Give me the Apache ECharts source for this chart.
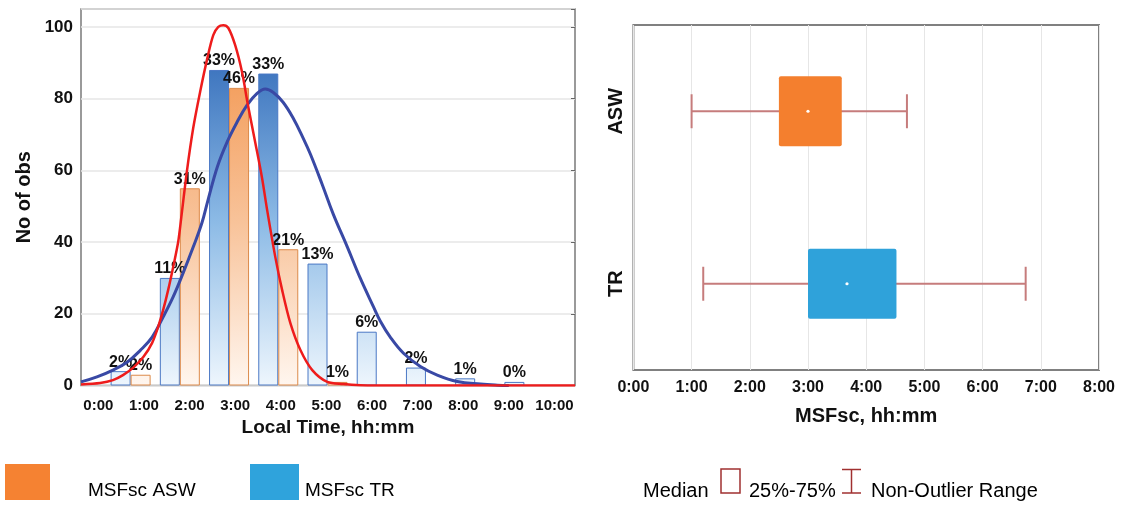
<!DOCTYPE html>
<html><head><meta charset="utf-8">
<script src="https://cdn.jsdelivr.net/npm/echarts@6/dist/echarts.min.js"></script>
<style>html,body{margin:0;padding:0;background:#fff}#c{width:1121px;height:507px}</style>
</head><body><div id="c"></div>
<script>
// ---- Histogram (left) ----
const bins = ['0-1', '1-2', '2-3', '3-4', '4-5', '5-6', '6-7', '7-8', '8-9'];
const trCounts  = [4, 30, 88, 87, 34, 15, 5, 2, 1];
const aswCounts = [3, 55, 83, 38, 1, null, null, null, null];
const trPct  = ['2%', '11%', '33%', '33%', '13%', '6%', '2%', '1%', '0%'];
const aswPct = ['2%', '31%', '46%', '21%', '1%', '', '', '', ''];
const hourTicks = [0, 1, 2, 3, 4, 5, 6, 7, 8, 9, 10];
const timeLabels = ['0:00', '1:00', '2:00', '3:00', '4:00', '5:00', '6:00', '7:00', '8:00', '9:00', '10:00'];
const yTicks = [0, 20, 40, 60, 80, 100];
// fitted normal curves: [hours, count]
const aswFit = [[-0.38,0.3],[0.04,0.7],[0.32,1.5],[0.54,2.9],[0.76,4.9],[0.99,8.0],[1.18,11.9],[1.31,16.3],[1.42,21.0],[1.53,26.6],[1.64,33.0],[1.75,40.0],[1.82,47.0],[1.94,59.6],[2.08,71.8],[2.23,81.8],[2.39,91.3],[2.52,97.7],[2.63,100.0],[2.74,100.5],[2.85,99.7],[3.00,94.9],[3.15,87.4],[3.28,78.2],[3.44,67.8],[3.59,57.8],[3.70,49.0],[3.88,35.8],[4.03,26.6],[4.21,17.4],[4.43,9.9],[4.69,4.3],[5.02,1.0],[5.37,0.4],[5.74,0.1],[6.5,0],[10.45,0]];
const trFit = [[-0.38,1.0],[-0.03,2.4],[0.32,4.3],[0.63,6.5],[0.92,9.8],[1.18,13.5],[1.42,19.1],[1.64,24.7],[1.86,31.4],[2.08,38.6],[2.27,45.3],[2.40,51.5],[2.61,61.0],[2.82,67.8],[3.04,73.4],[3.26,78.2],[3.48,81.5],[3.66,82.7],[3.83,81.8],[4.05,79.0],[4.27,74.6],[4.49,69.0],[4.65,64.5],[4.91,56.0],[5.15,47.8],[5.46,38.6],[5.74,30.0],[6.03,22.0],[6.18,18.0],[6.40,13.5],[6.69,9.0],[7.06,5.3],[7.43,2.9],[7.87,1.1],[8.38,0.4],[8.75,0.1],[9.0,0]];

// ---- Box plot (right) ----
const boxAxisCats = ['TR', 'ASW'];
const boxGroups = ['ASW', 'TR'];
// [whisker low, Q1, median, Q3, whisker high] in hours
const boxStats = [
  [1.0, 2.5, 3.0, 3.58, 4.7],
  [1.2, 3.0, 3.67, 4.52, 6.74]
];
const boxTimeLabels = ['0:00', '1:00', '2:00', '3:00', '4:00', '5:00', '6:00', '7:00', '8:00'];

const F = '"Liberation Sans", Arial, sans-serif';
const boxColors = ['#f47f2e', '#2fa2da'];
const whiskerColor = '#c67c7c';

const chart = echarts.init(document.getElementById('c'), null, {renderer: 'canvas'});

const blueGrad = new echarts.graphic.LinearGradient(0, 60, 0, 386, [
  {offset: 0, color: '#3a72bd'}, {offset: 0.5, color: '#8dbbe6'}, {offset: 1, color: '#eef6fd'}], true);
const orangeGrad = new echarts.graphic.LinearGradient(0, 60, 0, 386, [
  {offset: 0, color: '#f39a56'}, {offset: 0.5, color: '#f8c39a'}, {offset: 1, color: '#fff6ef'}], true);

const boldText = (size) => ({fontFamily: F, fontWeight: 'bold', fontSize: size, color: '#111'});

function renderBox(params, api) {
  const cat = api.value(0);
  const lo = api.coord([api.value(1), cat]);
  const q1 = api.coord([api.value(2), cat]);
  const md = api.coord([api.value(3), cat]);
  const q3 = api.coord([api.value(4), cat]);
  const hi = api.coord([api.value(5), cat]);
  const band = api.size([0, 1])[1];
  const boxH = band * 0.405, capH = band * 0.197;
  const y = md[1];
  const ws = {stroke: whiskerColor, lineWidth: 2};
  return {type: 'group', children: [
    {type: 'line', shape: {x1: lo[0], y1: y, x2: hi[0], y2: y}, style: ws},
    {type: 'line', shape: {x1: lo[0], y1: y - capH / 2, x2: lo[0], y2: y + capH / 2}, style: ws},
    {type: 'line', shape: {x1: hi[0], y1: y - capH / 2, x2: hi[0], y2: y + capH / 2}, style: ws},
    {type: 'rect', shape: {x: q1[0], y: y - boxH / 2, width: q3[0] - q1[0], height: boxH, r: 2}, style: {fill: api.visual('color')}},
    {type: 'circle', shape: {cx: md[0], cy: y, r: 1.6}, style: {fill: '#ffffff'}}
  ]};
}

const option = {
  animation: false,
  backgroundColor: '#ffffff',
  grid: [
    {left: 81, top: 9, width: 494, height: 376.5, show: true, borderColor: '#7a7a7a', borderWidth: 1.5, outerBoundsMode: 'none'},
    {left: 106, top: 9, width: 443, height: 376.5, outerBoundsMode: 'none'},
    {left: 633.4, top: 25, width: 465.6, height: 345, show: true, borderColor: '#808080', borderWidth: 2, outerBoundsMode: 'none'}
  ],
  xAxis: [
    {gridIndex: 0, type: 'value', min: -0.38, max: 10.45,
     axisLine: {show: false}, axisTick: {show: false}, splitLine: {show: false},
     axisLabel: Object.assign({customValues: hourTicks, margin: 13,
       formatter: v => timeLabels[hourTicks.indexOf(Math.round(v))]}, boldText(15)),
     name: 'Local Time, hh:mm', nameLocation: 'middle', nameGap: 33, nameTextStyle: boldText(19)},
    {gridIndex: 1, type: 'category', data: bins, position: 'bottom',
     axisLine: {show: false}, axisLabel: {show: false},
     axisTick: {inside: true, length: 4, lineStyle: {color: '#666'}}},
    {gridIndex: 1, type: 'category', data: bins, position: 'top',
     axisLine: {show: false}, axisLabel: {show: false},
     axisTick: {inside: true, length: 4, lineStyle: {color: '#666'}}},
    {gridIndex: 2, type: 'value', min: 0, max: 8, interval: 1,
     axisLine: {show: false}, axisTick: {show: false},
     splitLine: {show: true, lineStyle: {color: '#e6e6e6', width: 1}},
     axisLabel: Object.assign({margin: 10, formatter: v => boxTimeLabels[Math.round(v)]}, boldText(16)),
     name: 'MSFsc, hh:mm', nameLocation: 'middle', nameGap: 36, nameTextStyle: boldText(20)},
    {gridIndex: 2, type: 'value', min: 0, max: 8, interval: 1, position: 'top',
     axisLine: {show: false}, axisLabel: {show: false}, splitLine: {show: false},
     axisTick: {inside: true, length: 4, lineStyle: {color: '#666'}}}
  ],
  yAxis: [
    {gridIndex: 0, type: 'value', min: 0, max: 105, interval: 20,
     axisLine: {show: false}, axisTick: {show: false},
     splitLine: {lineStyle: {color: '#e6e6e6', width: 1.5}},
     axisLabel: Object.assign({margin: 8, formatter: v => (yTicks.indexOf(v) >= 0 ? String(v) : '')}, boldText(17)),
     name: 'No of obs', nameLocation: 'middle', nameGap: 47, nameTextStyle: boldText(20)},
    {gridIndex: 0, type: 'value', min: 0, max: 105, interval: 20, position: 'right',
     axisLine: {show: false}, axisLabel: {show: false}, splitLine: {show: false},
     axisTick: {inside: true, length: 4, lineStyle: {color: '#666'}}},
    {gridIndex: 1, type: 'value', min: 0, max: 105, show: false},
    {gridIndex: 2, type: 'category', data: boxAxisCats,
     axisLine: {show: false}, splitLine: {show: false},
     axisTick: {inside: true, alignWithLabel: true, length: 4, lineStyle: {color: '#666'}},
     axisLabel: Object.assign({rotate: 90, margin: 7}, boldText(20))},
    {gridIndex: 2, type: 'category', data: boxAxisCats, position: 'right',
     axisLine: {show: false}, axisLabel: {show: false}, splitLine: {show: false},
     axisTick: {inside: true, alignWithLabel: true, length: 4, lineStyle: {color: '#666'}}}
  ],
  series: [
    {type: 'bar', name: 'MSFsc TR', xAxisIndex: 1, yAxisIndex: 2, data: trCounts,
     barWidth: 20, barGap: '0%',
     itemStyle: {color: blueGrad, borderColor: '#4a78c5', borderWidth: 1},
     label: Object.assign({show: true, position: 'top', distance: 1,
       formatter: p => trPct[p.dataIndex]}, boldText(16))},
    {type: 'bar', name: 'MSFsc ASW', xAxisIndex: 1, yAxisIndex: 2, data: aswCounts,
     barWidth: 20, barGap: '0%',
     itemStyle: {color: orangeGrad, borderColor: '#dc8a4a', borderWidth: 1},
     label: Object.assign({show: true, position: 'top', distance: 1,
       formatter: p => aswPct[p.dataIndex]}, boldText(16))},
    {type: 'line', xAxisIndex: 0, yAxisIndex: 0, data: trFit, smooth: 0.4, showSymbol: false,
     lineStyle: {color: '#3949a5', width: 3}, z: 5},
    {type: 'line', xAxisIndex: 0, yAxisIndex: 0, data: aswFit, smooth: 0.3, showSymbol: false,
     lineStyle: {color: '#ee1c1c', width: 2.5}, z: 6},
    {type: 'custom', xAxisIndex: 3, yAxisIndex: 3, renderItem: renderBox,
     encode: {x: [1, 2, 3, 4, 5], y: 0},
     data: boxGroups.map((g, i) => ({name: g, value: [boxAxisCats.indexOf(g)].concat(boxStats[i]), itemStyle: {color: boxColors[i]}}))}
  ],
  graphic: [
    {type: 'rect', shape: {x: 5, y: 464, width: 45, height: 36}, style: {fill: '#f58232'}},
    {type: 'text', x: 88, y: 491, style: {text: 'MSFsc ASW', fontFamily: F, fontSize: 19, fill: '#000', verticalAlign: 'middle'}},
    {type: 'rect', shape: {x: 250, y: 464, width: 49, height: 36}, style: {fill: '#2fa3dc'}},
    {type: 'text', x: 305, y: 491, style: {text: 'MSFsc TR', fontFamily: F, fontSize: 19, fill: '#000', verticalAlign: 'middle'}},
    {type: 'text', x: 643, y: 491, style: {text: 'Median', fontFamily: F, fontSize: 20, fill: '#000', verticalAlign: 'middle'}},
    {type: 'rect', shape: {x: 721, y: 469, width: 19, height: 24}, style: {fill: 'none', stroke: '#a03030', lineWidth: 1.5}},
    {type: 'text', x: 749, y: 491, style: {text: '25%-75%', fontFamily: F, fontSize: 20, fill: '#000', verticalAlign: 'middle'}},
    {type: 'polyline', shape: {points: [[842, 469.5], [861, 469.5]]}, style: {stroke: '#a03030', lineWidth: 1.5}},
    {type: 'polyline', shape: {points: [[851.5, 469.5], [851.5, 493]]}, style: {stroke: '#a03030', lineWidth: 1.5}},
    {type: 'polyline', shape: {points: [[842, 493], [861, 493]]}, style: {stroke: '#a03030', lineWidth: 1.5}},
    {type: 'text', x: 871, y: 491, style: {text: 'Non-Outlier Range', fontFamily: F, fontSize: 20, fill: '#000', verticalAlign: 'middle'}}
  ]
};
chart.setOption(option);
</script></body></html>
